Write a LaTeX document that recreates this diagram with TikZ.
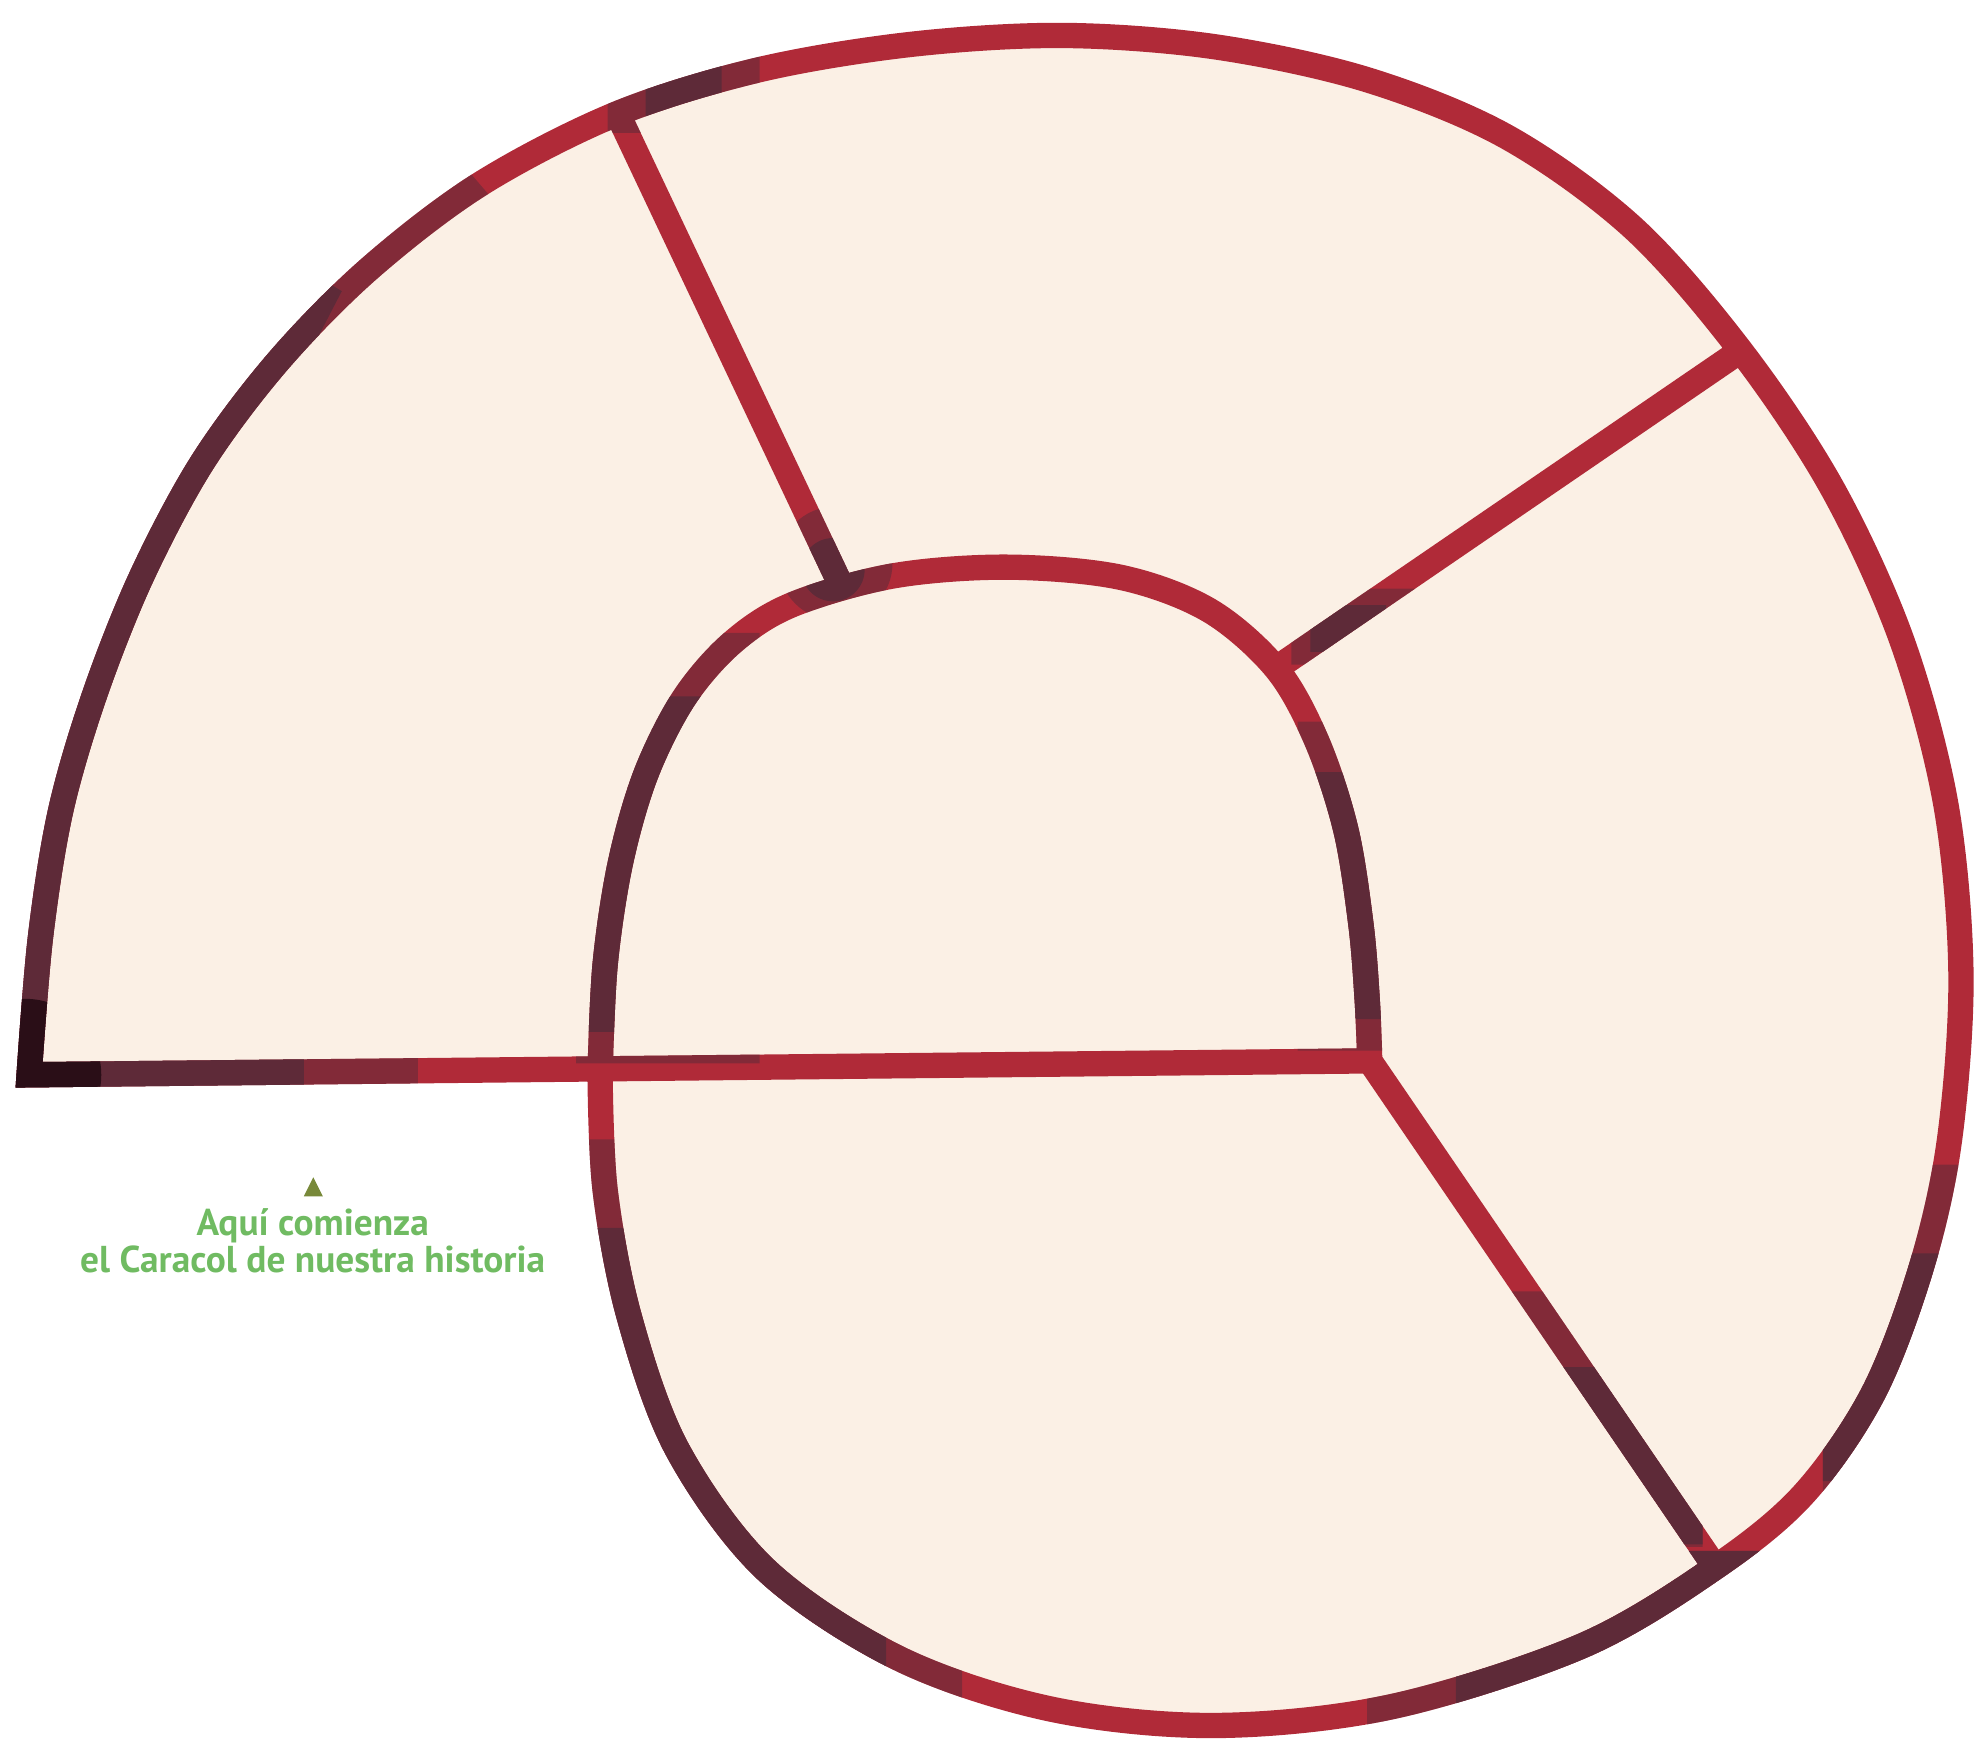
\documentclass[tikz,border=0pt]{standalone}
\usepackage{fontspec}
\setsansfont{PT Sans}

\definecolor{shellred}{HTML}{B02A38}
\definecolor{shelldark}{HTML}{5E2A38}
\definecolor{shellblack}{HTML}{2A0E17}
\definecolor{shellcream}{HTML}{FBF0E5}
\definecolor{notegreen}{HTML}{70BB62}
\definecolor{noteolive}{HTML}{78893A}

% camara central, de la punta derecha a la union de la izquierda
\newcommand{\innerarch}{plot[smooth, tension=0.55] coordinates {
    (1082,838) (1080,790) (1075,730) (1063,655) (1040,585) (1008,528)
    (955,482) (885,456) (795,448) (705,455) (625,478) (578,508)
    (540,552) (510,612) (490,682) (478,762) (474,848)}}
% vuelta exterior, de la union hasta la esquina de abajo
\newcommand{\outerwall}{--plot[smooth, tension=0.55] coordinates {
    (474,848) (478,940) (497,1040) (535,1145) (605,1240) (710,1310)
    (830,1350) (960,1363) (1100,1348) (1250,1300) (1355,1238) (1425,1180)
    (1480,1100) (1518,1000) (1540,900) (1549,770) (1537,635) (1502,505)
    (1447,385) (1375,277) (1290,180) (1190,108) (1080,63) (960,37)
    (840,28) (720,35) (600,55) (487,90) (380,145) (292,212) (220,285)
    (160,365) (112,455) (75,548) (48,640) (32,740) (23,849)}}
\newcommand{\shellwalls}{\innerarch \outerwall -- cycle
    (r1o) -- (r1i) (r2o) -- (r2i) (r3i) -- (r3o)}

\begin{document}
\begin{tikzpicture}[
    x=0.1mm, y=-0.1mm,
    wall/.style={draw=shellred, line width=2mm, line join=miter},
    worn/.style={wall, draw=shelldark},
    note/.style={text=notegreen, font=\sffamily\bfseries\fontsize{8.4}{8.3}\selectfont,
        align=center, inner sep=0pt}
]
    \useasboundingbox (0,0) rectangle (1568,1381);

    % tabiques
    \coordinate (r1o) at (487,88);
    \coordinate (r1i) at (666,466);
    \coordinate (r2o) at (1375,277);
    \coordinate (r2i) at (1008,528);
    \coordinate (r3i) at (1082,838);
    \coordinate (r3o) at (1355,1238);

    % concha
    \fill[shellcream] (474,848) \outerwall -- cycle;
    \draw[wall] \shellwalls;

    % partes gastadas del trazo: primero a medias, luego del todo
    \begin{scope}
        \clip (0,900) -- (330,900) -- (330,800) -- (170,500) -- (400,170)
              -- (340,100) -- (0,150) -- cycle
              (480,35) rectangle (600,105)
              (660,445) circle (45)
              (455,500) rectangle (600,840)
              (1025,570) rectangle (1100,830)
              (1020,465) rectangle (1120,525)
              (1190,1020) rectangle (1345,1222)
              (450,900) rectangle (760,1350)
              (1080,1225) rectangle (1440,1390)
              (1440,920) rectangle (1570,1180);
        \draw[worn, draw opacity=0.55] \shellwalls;
    \end{scope}
    \begin{scope}
        \clip (0,900) -- (240,900) -- (240,800) -- (130,500) -- (270,230)
              -- (220,200) -- (0,250) -- cycle
              (510,45) rectangle (570,100)
              (658,450) circle (25)
              (455,550) rectangle (560,815)
              (1030,610) rectangle (1100,805)
              (1035,478) rectangle (1095,515)
              (1230,1080) rectangle (1345,1220)
              (450,970) rectangle (700,1320)
              (1150,1225) rectangle (1440,1390)
              (1440,990) rectangle (1570,1170);
        \draw[worn] \shellwalls;
    \end{scope}
    \begin{scope}
        \clip (20,849) circle (60);
        \draw[wall, draw=shellblack] \shellwalls;
    \end{scope}

    % nota
    \fill[noteolive] (240,945) -- (255,945) -- (247.5,930) -- cycle;
    \node[note, anchor=base] (lema) at (247,1005) {Aquí comienza\\el Caracol de nuestra historia};
\end{tikzpicture}
\end{document}
